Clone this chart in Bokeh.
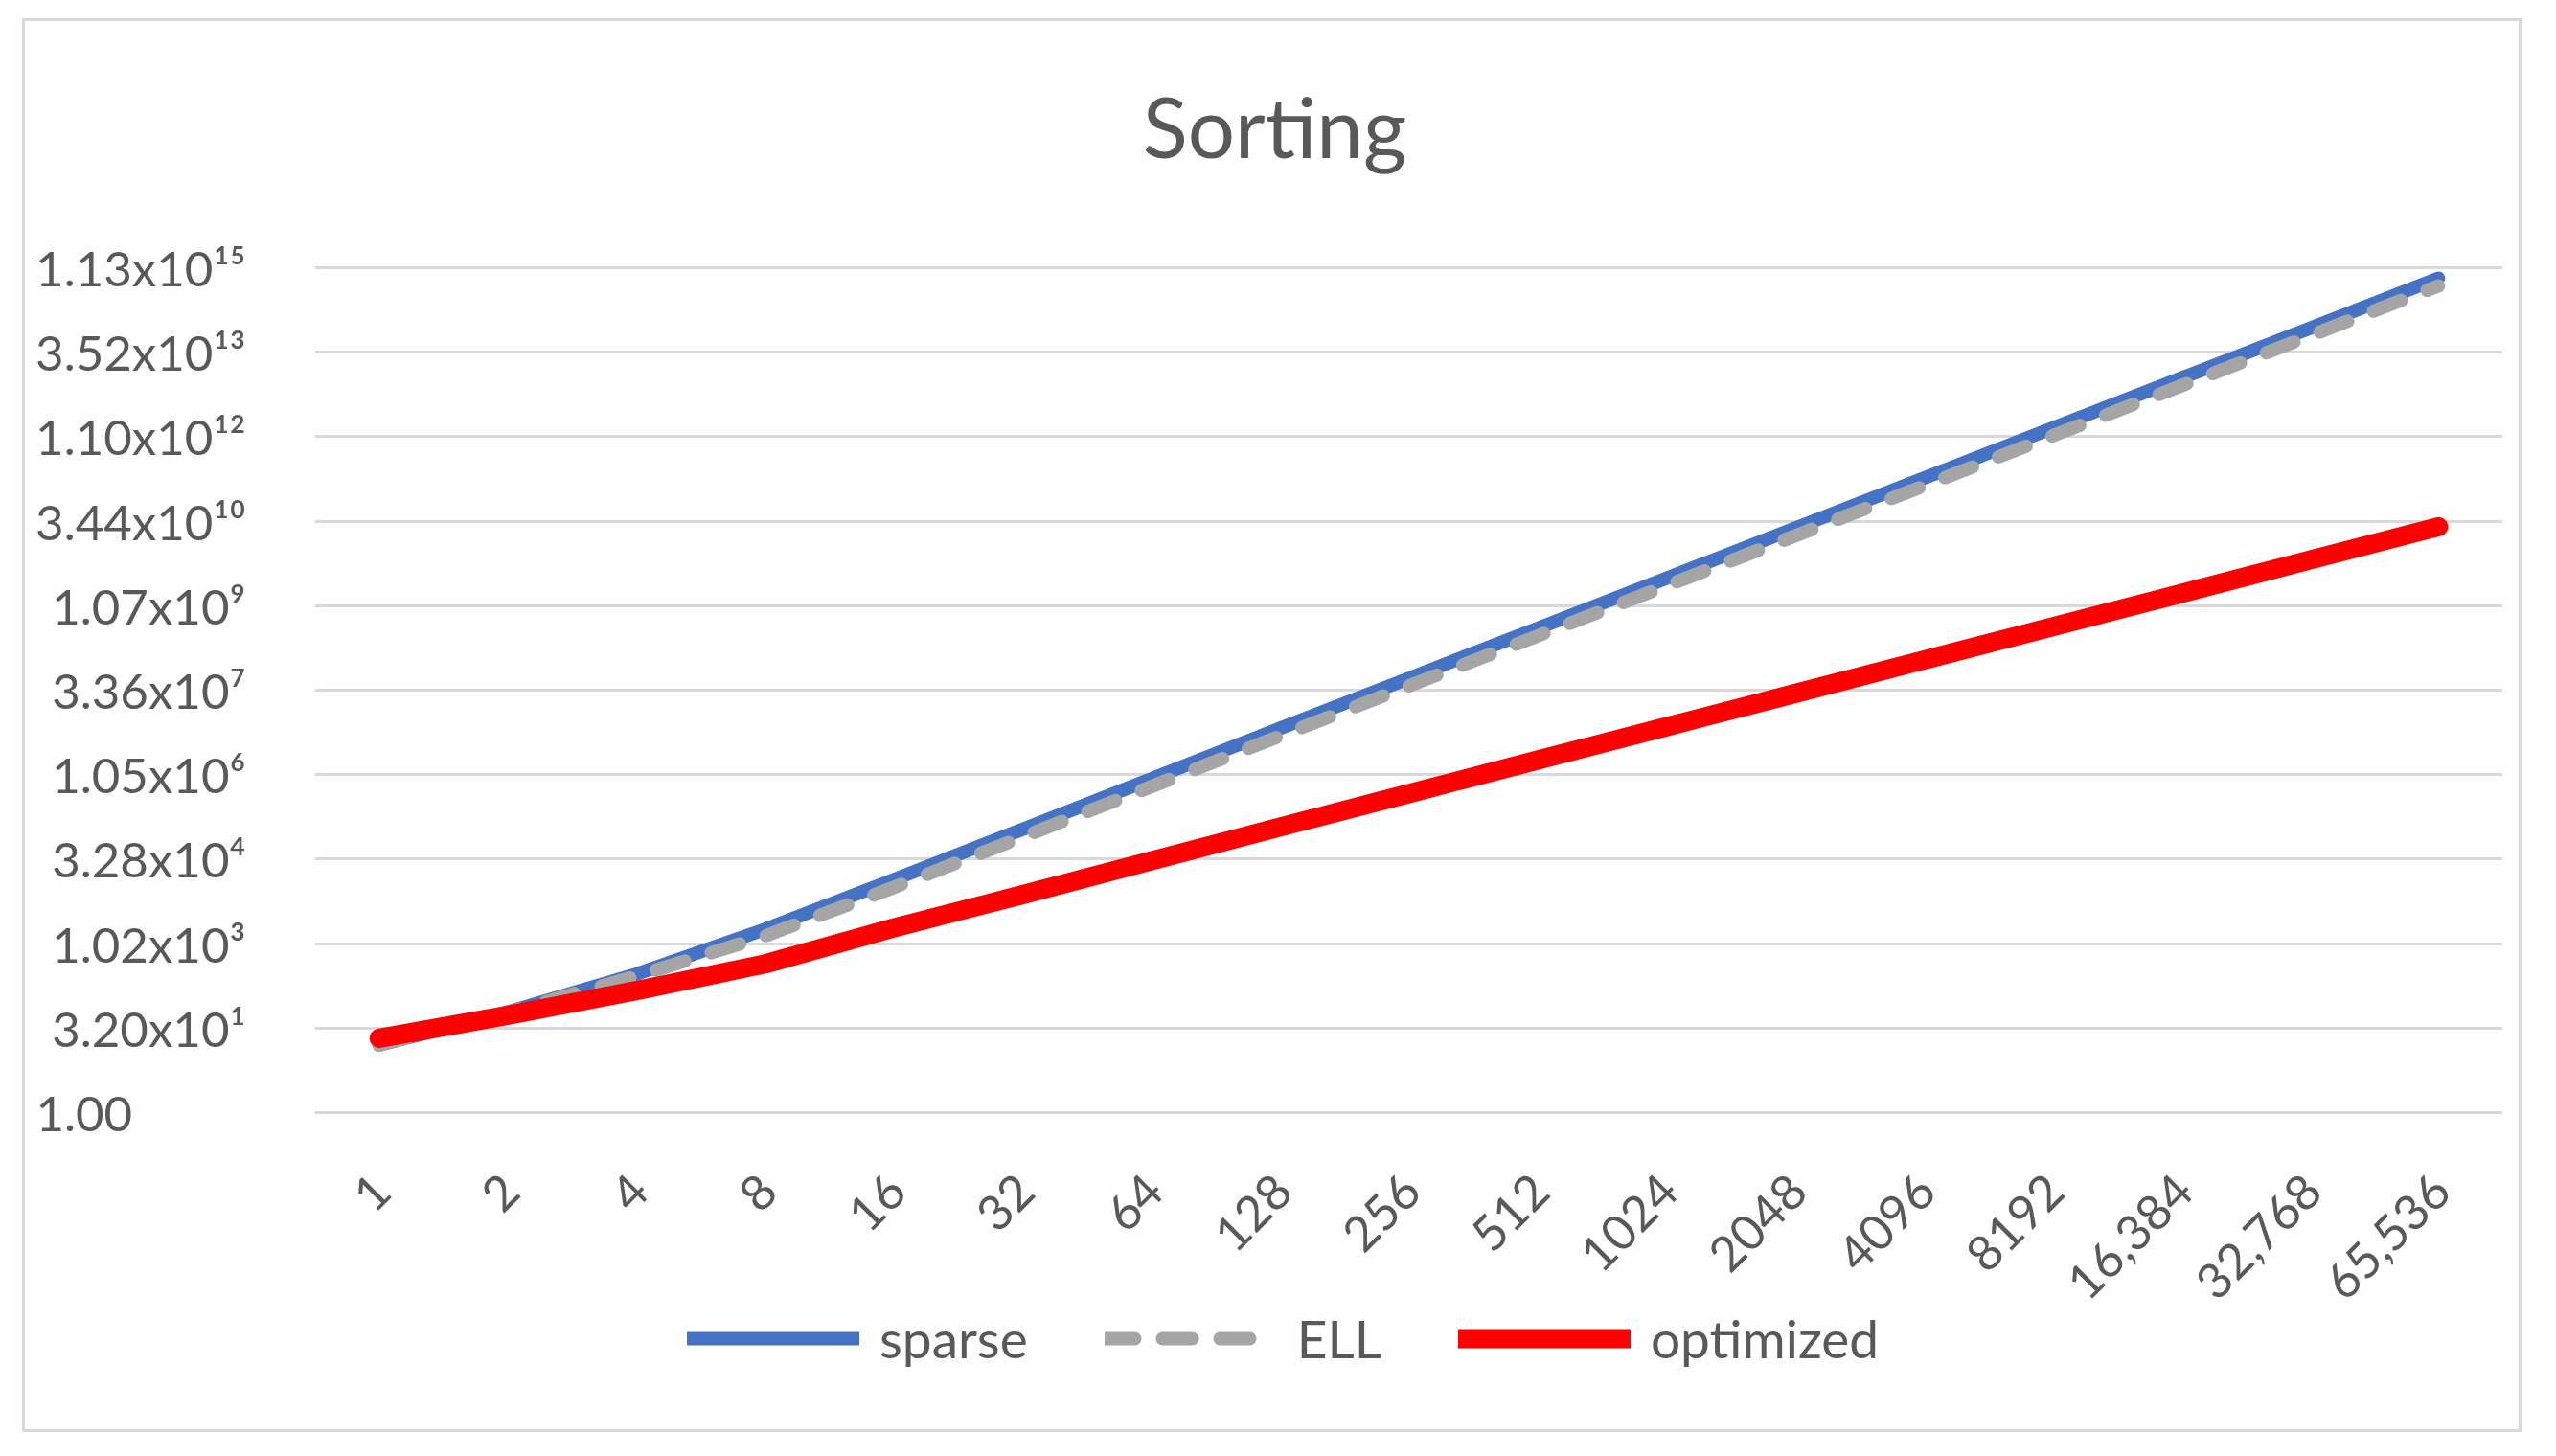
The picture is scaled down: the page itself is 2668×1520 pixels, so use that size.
import math
from bokeh.plotting import figure
from bokeh.models import FactorRange, Range1d, FixedTicker, Legend, LegendItem, Label
from bokeh.core.properties import value
from bokeh.embed import file_html
from bokeh.resources import INLINE

# ---------------- data ----------------
sizes = ["1", "2", "4", "8", "16", "32", "64", "128", "256", "512", "1024",
         "2048", "4096", "8192", "16,384", "32,768", "65,536"]
sparse = [16, 61.8, 294, 1846, 14160, 111750, 881760, 7.005e6, 5.451e7,
          4.242e8, 3.300e9, 2.568e10, 1.998e11, 1.555e12, 1.210e13, 9.415e13, 7.326e14]
ell = [16, 61, 270, 1400, 10300, 81600, 643700, 5.11e6, 3.98e7,
       3.10e8, 2.41e9, 1.875e10, 1.459e11, 1.135e12, 8.83e12, 6.87e13, 5.35e14]
optimized = [21.1, 54.2, 149, 446, 1951, 7643, 30570, 122300, 482440,
             1.903e6, 7.456e6, 2.921e7, 1.152e8, 4.515e8, 1.769e9, 6.977e9, 2.733e10]

y_tick_values = [1, 32, 1024, 32768, 1048576, 33554432, 1073741824,
                 34359738368, 1099511627776, 35184372088832, 1125899906842624]
y_tick_labels = ["1.00\u2007\u2007\u2007\u2007", "3.20x10\u00b9", "1.02x10\u00b3", "3.28x10\u2074",
                 "1.05x10\u2076", "3.36x10\u2077", "1.07x10\u2079", "3.44x10\u00b9\u2070",
                 "1.10x10\u00b9\u00b2", "3.52x10\u00b9\u00b3", "1.13x10\u00b9\u2075"]

series_names = ["sparse", "ELL", "optimized"]
title_text = "Sorting"

TEXT = "#595959"
FONT = "Lato"

# The frame spans the full height; the y range is widened above and below the
# 1 .. 32^10 plot band so that the title, the rotated category labels and the
# legend sit inside the frame.
p = figure(width=2609, height=1476,
           x_range=FactorRange(factors=sizes),
           y_range=Range1d(1.7746e-6, 2.737e19),
           y_axis_type="log", x_axis_location=None,
           output_backend="svg", toolbar_location=None,
           min_border_left=302, min_border_right=23,
           min_border_top=0, min_border_bottom=0)
p.styles = {"border": "3px solid #d9d9d9", "transform": "translate(23px, 19px)"}
p.background_fill_color = "white"
p.border_fill_color = "white"
p.outline_line_color = None

# y axis (log, base-32 ticks)
p.yaxis.ticker = FixedTicker(ticks=y_tick_values)
p.yaxis.major_label_overrides = dict(zip(y_tick_values, y_tick_labels))
p.yaxis.axis_line_color = None
p.yaxis.major_tick_line_color = None
p.yaxis.minor_tick_line_color = None
p.yaxis.major_label_text_font = FONT
p.yaxis.major_label_text_font_size = "51px"
p.yaxis.major_label_text_color = TEXT
p.yaxis.major_label_standoff = 66

p.ygrid.ticker = FixedTicker(ticks=y_tick_values)
p.ygrid.grid_line_color = "#d9d9d9"
p.ygrid.grid_line_width = 3
p.xgrid.visible = False
for g in p.grid:
    if g.dimension == 0:
        g.visible = False

# category labels, rotated 45 degrees, hanging below the lowest gridline
p.text(x=sizes, y=[y_tick_values[0]] * len(sizes), text=sizes,
       angle=math.pi / 4, text_align="right", text_baseline="middle",
       x_offset=3, y_offset=73, text_font=value(FONT), text_font_size=value("51px"),
       text_color=TEXT)

r_sparse = p.line(sizes, sparse, line_color="#4472C4", line_width=14,
                  line_join="round", line_cap="round")
r_ell = p.line(sizes, ell, line_color="#A5A5A5", line_width=14,
               line_dash="31 29", line_join="round", line_cap="round")
r_opt = p.line(sizes, optimized, line_color="#FF0000", line_width=20,
               line_join="round", line_cap="round")

legend = Legend(items=[LegendItem(label=series_names[0], renderers=[r_sparse]),
                       LegendItem(label=series_names[1], renderers=[r_ell]),
                       LegendItem(label=series_names[2], renderers=[r_opt])],
                orientation="horizontal", location=(389, 68),
                glyph_width=180, glyph_height=40, label_standoff=21, spacing=80,
                padding=0, margin=0, border_line_color=None,
                background_fill_alpha=0,
                label_text_font=FONT, label_text_font_size="55px",
                label_text_color=TEXT)
p.add_layout(legend)

p.add_layout(Label(x=1002, y=1367, x_units="screen", y_units="screen",
                   text=title_text, text_align="center", text_baseline="alphabetic",
                   text_font=FONT, text_font_size="87px", text_color=TEXT))

open("out.html", "w").write(file_html(p, INLINE))
